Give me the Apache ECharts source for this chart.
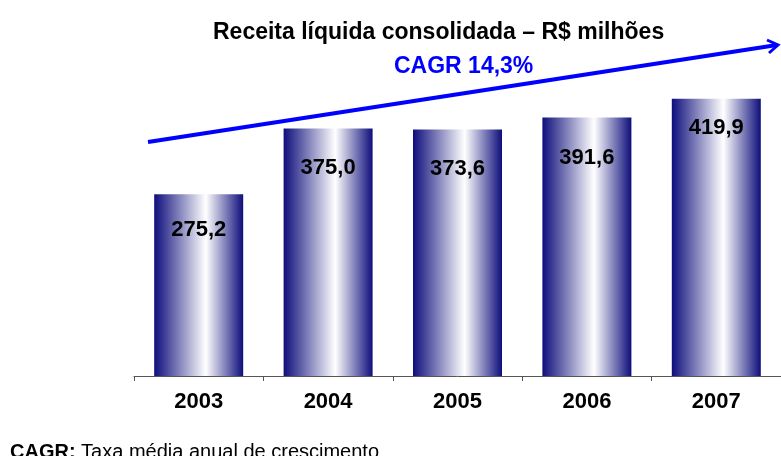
<!DOCTYPE html>
<html>
<head>
<meta charset="utf-8">
<script src="https://cdn.jsdelivr.net/npm/echarts@6/dist/echarts.min.js"></script>
<style>
  html, body { margin: 0; padding: 0; background: #fff; }
  #main { width: 781px; height: 456px; }
</style>
</head>
<body>
<div id="main"></div>
<script type="text/javascript">
// dados do gráfico
var anos = ['2003', '2004', '2005', '2006', '2007'];
var receita = [275.2, 375.0, 373.6, 391.6, 419.9];
var rotulos = ['275,2', '375,0', '373,6', '391,6', '419,9'];
var distRotulo = [25, 28, 29, 29, 18];

var fonte = 'Liberation Sans, Arial, sans-serif';
var myChart = echarts.init(document.getElementById('main'));

// gradiente horizontal das barras (azul escuro -> branco -> azul escuro)
var gradiente = new echarts.graphic.LinearGradient(0, 0, 1, 0, [
    { offset: 0, color: '#0e0e7c' },
    { offset: 0.58, color: '#ffffff' },
    { offset: 1, color: '#0e0e7c' }
]);

var dados = receita.map(function (v, i) {
    return {
        value: v,
        label: { distance: distRotulo[i], formatter: rotulos[i] }
    };
});

var option = {
    backgroundColor: '#ffffff',
    animation: false,
    title: {
        text: 'Receita líquida consolidada – R$ milhões',
        left: 208,
        top: 16,
        textStyle: { color: '#000', fontSize: 23, fontWeight: 'bold', fontFamily: fonte }
    },
    grid: { left: 134, right: -10, top: 46, bottom: 80 },
    xAxis: {
        type: 'category',
        data: anos,
        axisLine: { lineStyle: { color: '#555', width: 1 } },
        axisTick: { show: true, length: 5, lineStyle: { color: '#555' } },
        axisLabel: { color: '#000', fontSize: 22, fontWeight: 'bold', fontFamily: fonte, margin: 15 }
    },
    yAxis: {
        type: 'value',
        min: 0,
        max: 500,
        show: false,
        splitLine: { show: false }
    },
    series: [
        {
            name: 'Receita',
            type: 'bar',
            data: dados,
            barWidth: 89,
            itemStyle: { color: gradiente },
            label: {
                show: true,
                position: 'insideTop',
                color: '#000',
                fontSize: 22,
                fontWeight: 'bold',
                fontFamily: fonte
            }
        }
    ],
    graphic: [
        {
            type: 'line',
            shape: { x1: 148, y1: 142, x2: 777, y2: 45 },
            style: { stroke: '#0000ff', lineWidth: 4 }
        },
        {
            type: 'polyline',
            shape: { points: [[767, 40], [778, 45], [769, 53]] },
            style: { stroke: '#0000ff', lineWidth: 3, fill: null }
        },
        {
            type: 'text',
            left: 394,
            top: 55,
            style: {
                text: 'CAGR 14,3%',
                fill: '#0000ff',
                font: 'bold 23px ' + fonte
            }
        },
        {
            type: 'text',
            left: 10,
            top: 442,
            style: {
                text: '{b|CAGR:} Taxa média anual de crescimento',
                fill: '#000',
                font: '20px ' + fonte,
                rich: {
                    b: { fontWeight: 'bold', fontSize: 20, fontFamily: fonte, fill: '#000' }
                }
            }
        }
    ]
};

myChart.setOption(option);
</script>
</body>
</html>
